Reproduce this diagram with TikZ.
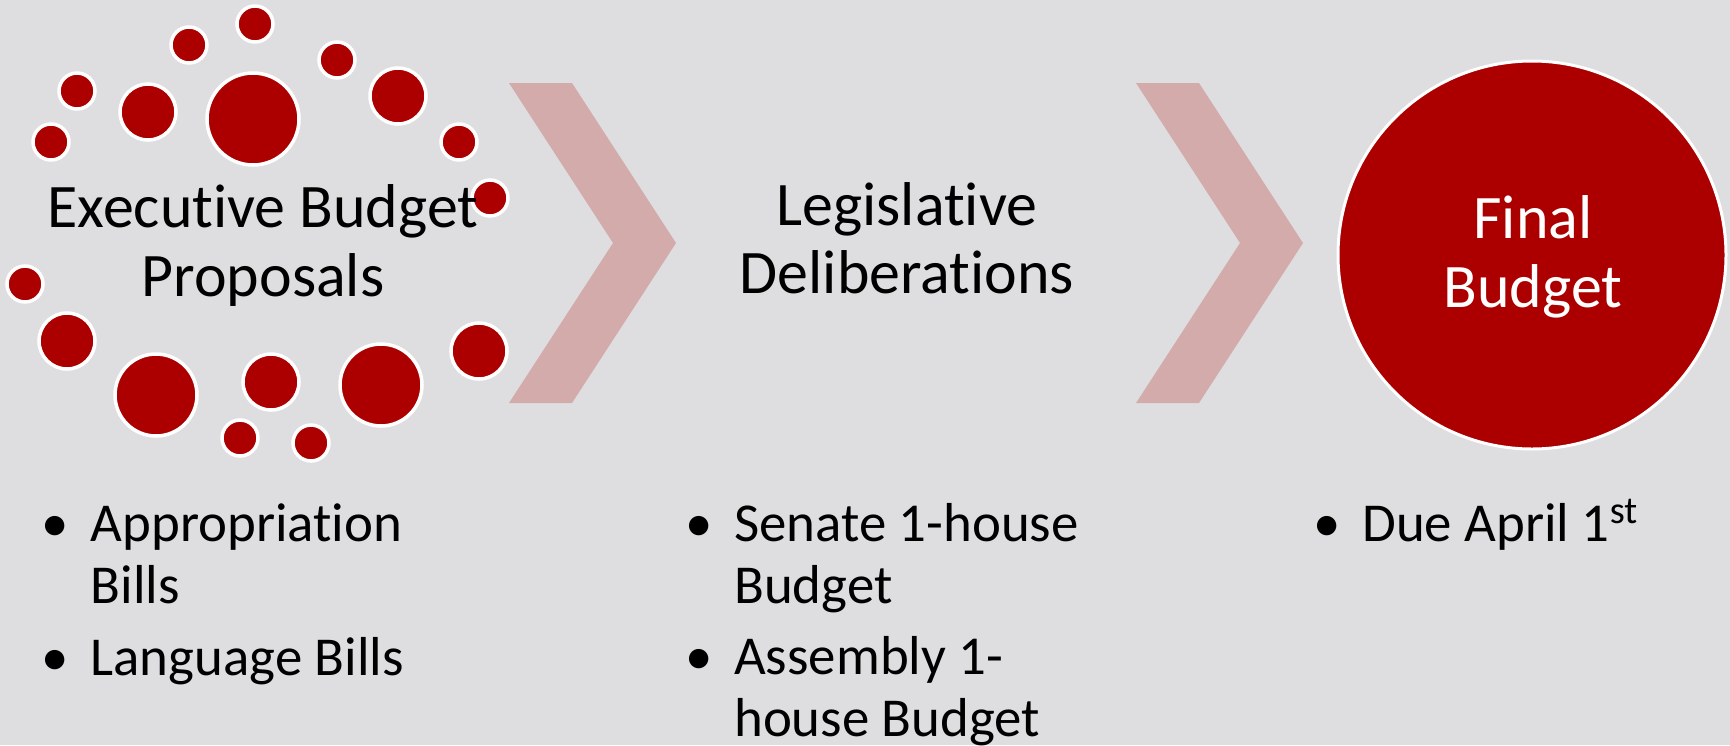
\documentclass[tikz,border=0pt]{standalone}
\usepackage{fontspec}
\setmainfont{Carlito}[Ligatures=NoCommon]
\definecolor{slidegray}{RGB}{222,222,224}
\definecolor{budgetred}{RGB}{172,0,0}
\definecolor{chevronpink}{RGB}{212,171,171}
\newcommand\headsize{\fontsize{17.6pt}{19.4pt}\selectfont}
\newcommand\listsize{\fontsize{15.6pt}{17.55pt}\selectfont}
\newcommand\bul{\llap{\textbullet\hspace{6.2pt}}}
\tikzset{
  bubble/.style={fill=budgetred,draw=white,line width=1pt},
  chevron/.style={fill=chevronpink},
  stagetext/.style={anchor=base,align=center,font=\headsize,inner sep=0pt},
  itemtext/.style={anchor=base west,align=left,font=\listsize,inner sep=0pt}
}
\begin{document}
\begin{tikzpicture}[x=0.01cm,y=-0.01cm]
      \useasboundingbox (0,0) rectangle (1730,745) ;
      \fill[slidegray] (0,0) rectangle (1730,745) ;
      % ring of bubbles round the first stage
      \draw[bubble] (255,24) circle (18) ;
      \draw[bubble] (189,45) circle (18) ;
      \draw[bubble] (337,60) circle (18) ;
      \draw[bubble] (77,91) circle (18) ;
      \draw[bubble] (148,112) circle (28) ;
      \draw[bubble] (253,119) circle (46) ;
      \draw[bubble] (398,96) circle (28) ;
      \draw[bubble] (51,142) circle (18) ;
      \draw[bubble] (459,142) circle (18) ;
      \draw[bubble] (490,198) circle (18) ;
      \draw[bubble] (25,284) circle (18) ;
      \draw[bubble] (67,341) circle (28) ;
      \draw[bubble] (156,395) circle (41) ;
      \draw[bubble] (271,382) circle (28) ;
      \draw[bubble] (381,385) circle (41) ;
      \draw[bubble] (479,351) circle (28) ;
      \draw[bubble] (240,438) circle (18) ;
      \draw[bubble] (311,443) circle (18) ;
      % chevrons
      \fill[chevron] (509,83)--(572,83)--(676,243)--(572,403)--(509,403)--(613,243)--cycle ;
      \fill[chevron] (1136,83)--(1199,83)--(1303,243)--(1199,403)--(1136,403)--(1240,243)--cycle ;
      \draw[fill=budgetred,draw=white,line width=0.85pt] (1532,255) circle (194) ;
      % base of a two-line node is its last line
      \node[stagetext] (exec) at (263,296) {Executive Budget\\Proposals} ;
      \node[stagetext] (legis) at (907,293.5) {Legislative\\Deliberations} ;
      \node[stagetext,text=white] (final) at (1533,307) {Final\\Budget} ;
      \node[itemtext] (execlist) at (90,675) %
        {\bul Appropriation\\Bills\\[2.85pt]\bul Language Bills} ;
      \node[itemtext] (legislist) at (733.5,736.7) %
        {\bul Senate 1-house\\Budget\\[2.85pt]\bul Assembly 1-\\house Budget} ;
      \node[itemtext] (finallist) at (1361.7,541.7) {\bul Due April 1\textsuperscript{st}} ;
    \end{tikzpicture}
\end{document}
